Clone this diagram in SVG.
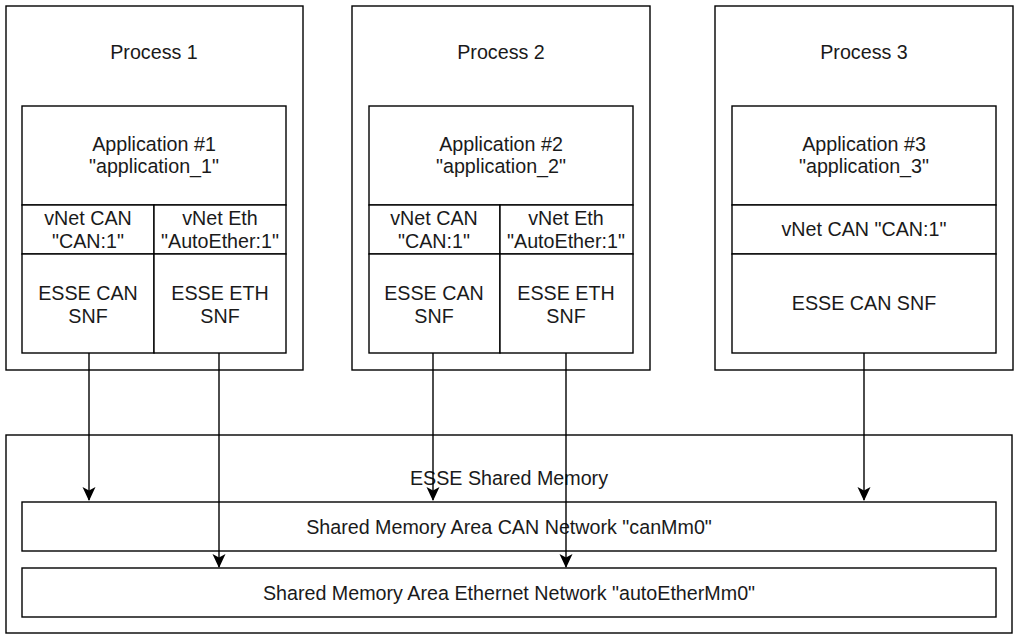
<svg xmlns="http://www.w3.org/2000/svg" width="1020" height="640" viewBox="0 0 1020 640">
<defs>
<style>
.b{fill:#fff;stroke:#000;stroke-width:1.4}
.t{font-family:"Liberation Sans",Arial,sans-serif;font-size:19.7px;fill:#1a1a1a;text-anchor:middle}
.c{fill:none;stroke:#000;stroke-width:1.4}
</style>
<marker id="ah" viewBox="0 0 14 14" refX="13" refY="7" markerWidth="14" markerHeight="14" markerUnits="userSpaceOnUse" orient="auto">
<path d="M0,0.5 L14,7 L0,13.5 L3.5,7 Z" fill="#000"/>
</marker>
</defs>
<rect width="1020" height="640" fill="#fff"/>
<g id="process1">
<rect class="b" x="6" y="6" width="297" height="364"/>
<text class="t" x="154" y="59">Process 1</text>
<rect class="b" x="22" y="106" width="264" height="99"/>
<text class="t" x="154" y="151">Application #1</text>
<text class="t" x="154" y="173">"application_1"</text>
<rect class="b" x="22" y="205" width="132" height="49"/>
<text class="t" x="88" y="225">vNet CAN</text>
<text class="t" x="88" y="248">"CAN:1"</text>
<rect class="b" x="154" y="205" width="132" height="49"/>
<text class="t" x="220" y="225">vNet Eth</text>
<text class="t" x="220" y="248">"AutoEther:1"</text>
<rect class="b" x="22" y="254" width="132" height="99"/>
<text class="t" x="88" y="300">ESSE CAN</text>
<text class="t" x="88" y="323">SNF</text>
<rect class="b" x="154" y="254" width="132" height="99"/>
<text class="t" x="220" y="300">ESSE ETH</text>
<text class="t" x="220" y="323">SNF</text>
</g>
<g id="process2">
<rect class="b" x="352" y="6" width="298" height="364"/>
<text class="t" x="501" y="59">Process 2</text>
<rect class="b" x="369" y="106" width="264" height="99"/>
<text class="t" x="501" y="151">Application #2</text>
<text class="t" x="501" y="173">"application_2"</text>
<rect class="b" x="369" y="205" width="131" height="49"/>
<text class="t" x="434" y="225">vNet CAN</text>
<text class="t" x="434" y="248">"CAN:1"</text>
<rect class="b" x="500" y="205" width="133" height="49"/>
<text class="t" x="566" y="225">vNet Eth</text>
<text class="t" x="566" y="248">"AutoEther:1"</text>
<rect class="b" x="369" y="254" width="131" height="99"/>
<text class="t" x="434" y="300">ESSE CAN</text>
<text class="t" x="434" y="323">SNF</text>
<rect class="b" x="500" y="254" width="133" height="99"/>
<text class="t" x="566" y="300">ESSE ETH</text>
<text class="t" x="566" y="323">SNF</text>
</g>
<g id="process3">
<rect class="b" x="715" y="6" width="298" height="364"/>
<text class="t" x="864" y="59">Process 3</text>
<rect class="b" x="732" y="106" width="264" height="99"/>
<text class="t" x="864" y="151">Application #3</text>
<text class="t" x="864" y="173">"application_3"</text>
<rect class="b" x="732" y="205" width="264" height="49"/>
<text class="t" x="864" y="236">vNet CAN "CAN:1"</text>
<rect class="b" x="732" y="254" width="264" height="99"/>
<text class="t" x="864" y="310">ESSE CAN SNF</text>
</g>
<g id="shared-memory">
<rect class="b" x="6" y="435" width="1006" height="198"/>
<text class="t" x="509" y="485">ESSE Shared Memory</text>
</g>
<g id="can-area">
<rect class="b" x="22" y="502" width="974" height="49"/>
<text class="t" x="509" y="534">Shared Memory Area CAN Network "canMm0"</text>
</g>
<g id="eth-area">
<rect class="b" x="22" y="568" width="974" height="49"/>
<text class="t" x="509" y="600">Shared Memory Area Ethernet Network "autoEtherMm0"</text>
</g>
<g id="connectors">
<line class="c" x1="89" y1="353" x2="89" y2="500" marker-end="url(#ah)"/>
<line class="c" x1="219" y1="353" x2="219" y2="567" marker-end="url(#ah)"/>
<line class="c" x1="433" y1="353" x2="433" y2="500" marker-end="url(#ah)"/>
<line class="c" x1="566" y1="353" x2="566" y2="567" marker-end="url(#ah)"/>
<line class="c" x1="864" y1="353" x2="864" y2="500" marker-end="url(#ah)"/>
</g>
</svg>
